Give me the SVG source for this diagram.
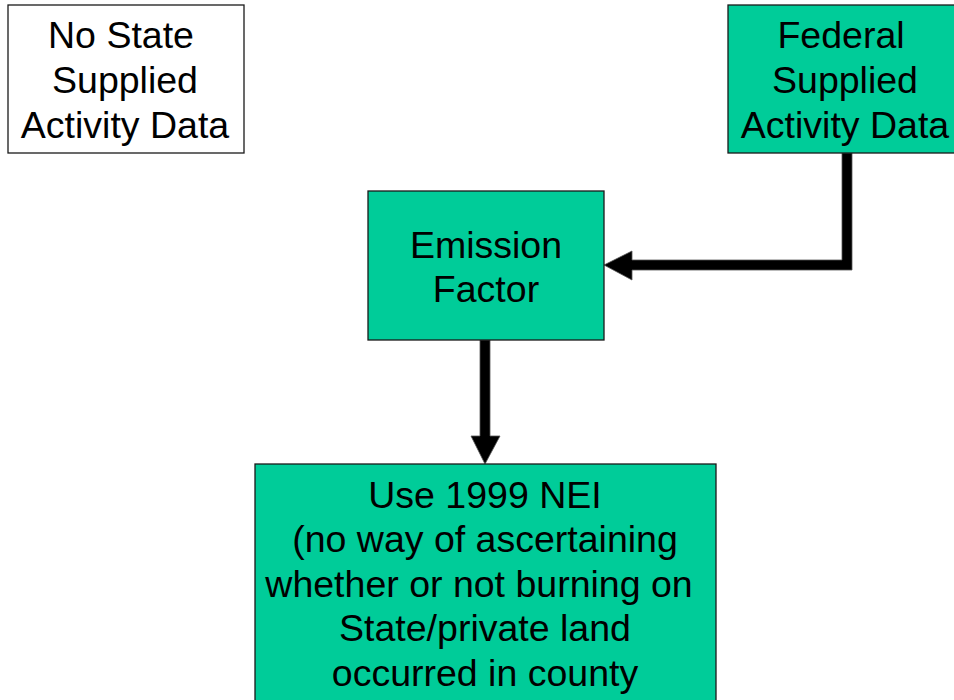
<svg xmlns="http://www.w3.org/2000/svg" width="954" height="700" viewBox="0 0 954 700">
<defs>
<style>
.box{stroke:#1a1a1a;stroke-width:1.3}
.green{fill:#00CC99}
.white{fill:#ffffff}
.t{font-family:"Liberation Sans",Arial,sans-serif;font-size:37.5px;fill:#000;text-anchor:middle}
.arrow{fill:#000;stroke:#555;stroke-width:0.8}
</style>
</defs>
<rect width="954" height="700" fill="#ffffff"/>
<g id="connectors">
<path class="arrow" d="M842,153 L852,153 L852,270 L632,270 L632,280 L604,265 L632,251 L632,260 L842,260 Z"/>
<path class="arrow" d="M480,340 L490,340 L490,436 L500,436 L485,464 L471,436 L480,436 Z"/>
</g>
<g id="no-state">
<rect class="box white" x="8" y="5" width="236" height="148"/>
<text class="t" x="121" y="48">No State</text>
<text class="t" x="125" y="93">Supplied</text>
<text class="t" x="125" y="138">Activity Data</text>
</g>
<g id="federal">
<rect class="box green" x="728" y="5" width="232" height="148"/>
<text class="t" x="841" y="48">Federal</text>
<text class="t" x="845" y="93">Supplied</text>
<text class="t" x="845" y="138">Activity Data</text>
</g>
<g id="emission">
<rect class="box green" x="368" y="191" width="236" height="149"/>
<text class="t" x="486" y="258">Emission</text>
<text class="t" x="486" y="302">Factor</text>
</g>
<g id="use1999">
<rect class="box green" x="255" y="464" width="461" height="240"/>
<text class="t" x="485" y="508">Use 1999 NEI</text>
<text class="t" x="485" y="552">(no way of ascertaining</text>
<text class="t" x="479" y="597">whether or not burning on</text>
<text class="t" x="485" y="641">State/private land</text>
<text class="t" x="485" y="686">occurred in county</text>
</g>
</svg>
